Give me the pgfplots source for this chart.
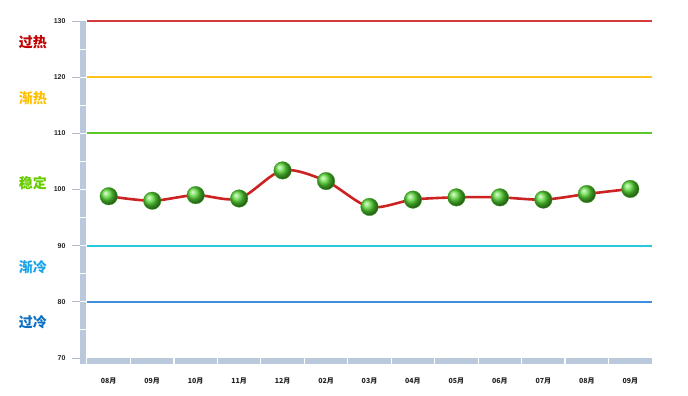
\documentclass[border=0pt]{standalone}
\usepackage{pgfplots}
\pgfplotsset{compat=1.18}
\usepackage{fontspec}
\setmainfont{Liberation Sans}
\newfontfamily\cjk{Noto Sans CJK SC}
\definecolor{wallc}{RGB}{185,201,219}
\definecolor{tickc}{RGB}{34,34,34}
\definecolor{redline}{RGB}{214,59,59}
\definecolor{goldline}{RGB}{255,194,26}
\definecolor{greenline}{RGB}{90,200,40}
\definecolor{cyanline}{RGB}{40,200,220}
\definecolor{blueline}{RGB}{61,143,219}
\definecolor{linered}{RGB}{204,34,34}
\definecolor{ballg}{RGB}{85,215,50}
\definecolor{tA}{RGB}{192,0,0}
\definecolor{tB}{RGB}{255,192,0}
\definecolor{tC}{RGB}{102,204,0}
\definecolor{tD}{RGB}{26,163,232}
\definecolor{tE}{RGB}{10,111,194}
\begin{document}
\begin{tikzpicture}[x=1pt,y=1pt]
\useasboundingbox (0,0) rectangle (688,396);
\begin{axis}[at={(87pt,38pt)}, anchor=south west, scale only axis,
  width=565pt, height=337pt,
  xmin=-0.5, xmax=12.5, ymin=70, ymax=130, clip=false,
  axis line style={draw=none},
  xtick={0,...,12},
  xticklabels={08月,09月,10月,11月,12月,02月,03月,04月,05月,06月,07月,08月,09月},
  ytick={70,80,...,130},
  major tick length=0pt, tick style={draw=none},
  yticklabel style={font=\bfseries\fontsize{7}{8}\selectfont, text=tickc, xshift=-18pt},
  xticklabel style={font=\cjk\bfseries\fontsize{7}{8}\selectfont, text=tickc, yshift=-16pt},
  /pgf/number format/assume math mode=true]
% wall and floor
\fill[wallc] ([xshift=-7.5pt]axis cs:-0.5,130) rectangle ([xshift=-1pt,yshift=-6.5pt]axis cs:-0.5,70);
\fill[wallc] ([yshift=-0.5pt]axis cs:-0.5,70) rectangle ([yshift=-6.5pt]axis cs:12.5,70);
\pgfplotsinvokeforeach{75,80,...,125}{
  \draw[white, line width=1pt] ([xshift=-7.5pt]axis cs:-0.5,#1) -- ([xshift=-1pt]axis cs:-0.5,#1);
}
\pgfplotsinvokeforeach{0.5,1.5,...,11.5}{
  \draw[white, line width=1.2pt] ([yshift=-0.5pt]axis cs:#1,70) -- ([yshift=-6.5pt]axis cs:#1,70);
}
\pgfplotsinvokeforeach{70,80,...,130}{
  \draw[wallc!80!gray, line width=0.8pt] ([xshift=-15pt]axis cs:-0.5,#1) -- ([xshift=-7.5pt]axis cs:-0.5,#1);
}
% reference lines
\addplot[draw=redline, line width=1.6pt, mark=none] coordinates {(-0.5,130) (12.5,130)};
\addplot[draw=goldline, line width=1.6pt, mark=none] coordinates {(-0.5,120) (12.5,120)};
\addplot[draw=greenline, line width=1.8pt, mark=none] coordinates {(-0.5,110) (12.5,110)};
\addplot[draw=cyanline, line width=1.8pt, mark=none] coordinates {(-0.5,90) (12.5,90)};
\addplot[draw=blueline, line width=1.6pt, mark=none] coordinates {(-0.5,80) (12.5,80)};
% data
\addplot[smooth, color=linered, line width=2.6pt, mark=ball, mark size=8.8pt,
  mark options={ball color=ballg, draw=ballg!75!black, line width=0.3pt}] coordinates {
(0,98.8) (1,98.0) (2,99.0) (3,98.4) (4,103.4) (5,101.5) (6,96.9)
(7,98.2) (8,98.6) (9,98.6) (10,98.2) (11,99.2) (12,100.1)};
\end{axis}
\begin{scope}[every node/.style={font=\cjk\bfseries\fontsize{14}{16}\selectfont, inner sep=0pt}]
\node[text=tA] at (33,354) {过热};
\node[text=tB] at (33,298) {渐热};
\node[text=tC] at (33,213) {稳定};
\node[text=tD] at (33,129) {渐冷};
\node[text=tE] at (33,74) {过冷};
\end{scope}
\end{tikzpicture}
\end{document}
